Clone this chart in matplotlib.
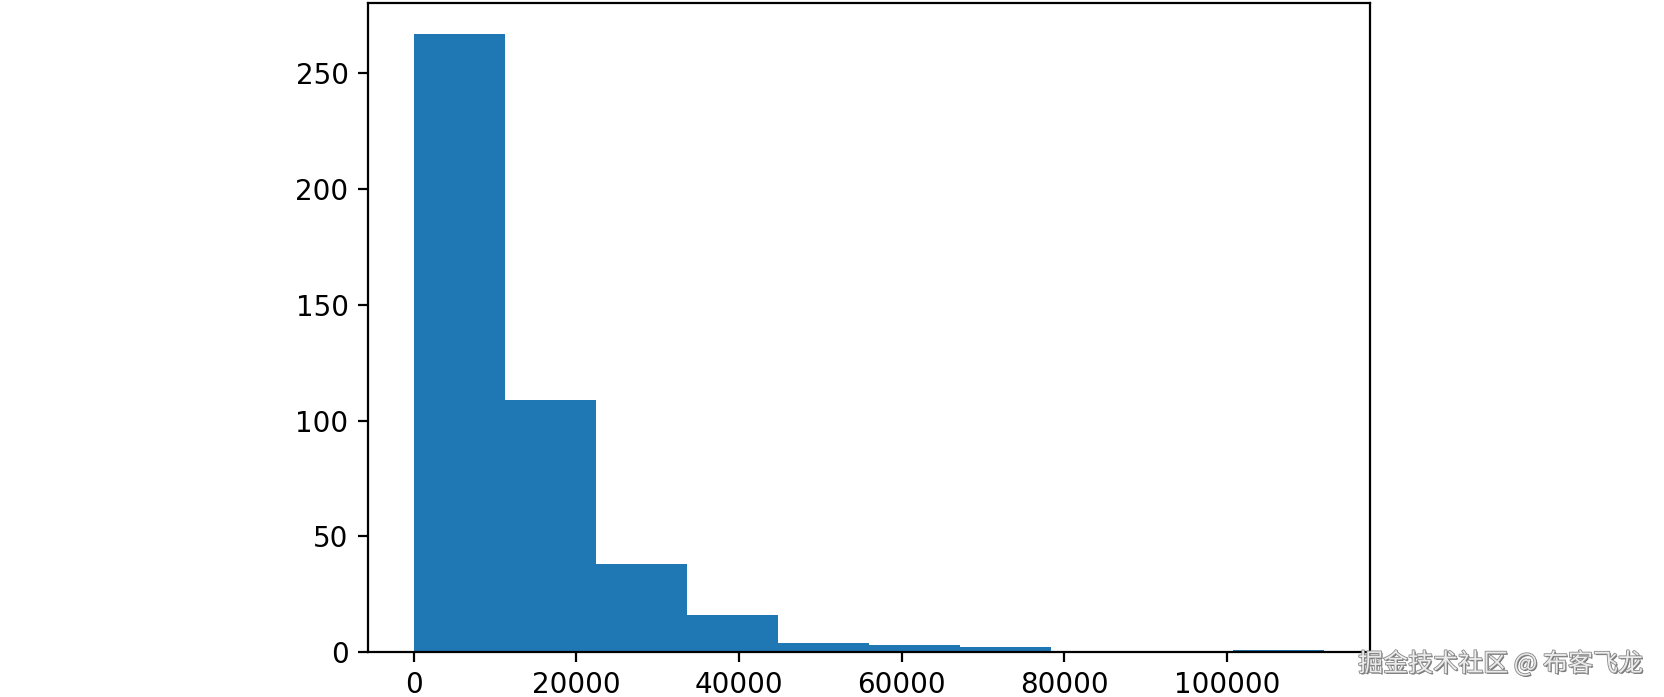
import matplotlib
matplotlib.use("Agg")
import matplotlib.pyplot as plt
import matplotlib.patheffects as pe

bin_edges = [0, 11200, 22400, 33600, 44800, 56000, 67200, 78400, 89600, 100800, 112000]
counts = [267, 109, 38, 16, 4, 3, 2, 0, 0, 1]
watermark = "掘金技术社区 @ 布客飞龙"

plt.rcParams['font.family'] = ['DejaVu Sans']
fig = plt.figure(figsize=(16.65, 6.97), dpi=100)
ax = fig.add_axes([368/1665, 45/697, 1002/1665, 649/697])
ax.hist(bin_edges[:-1], bins=bin_edges, weights=counts, color='#1f77b4')
for s in ax.spines.values():
    s.set_linewidth(1.6)
ax.tick_params(labelsize=20, length=7, width=1.6, pad=7)
ax.set_xticks([0, 20000, 40000, 60000, 80000, 100000])

fig.text(1643/1665, 1 - 664/697, watermark, ha='right', va='center', fontsize=18,
         family=['Noto Sans CJK SC', 'DejaVu Sans'], color='#ececec',
         path_effects=[pe.withSimplePatchShadow(offset=(1, -1), shadow_rgbFace='#555', alpha=0.8),
                       pe.withStroke(linewidth=1.2, foreground='#888')])
fig.savefig("out.png", dpi=100)
